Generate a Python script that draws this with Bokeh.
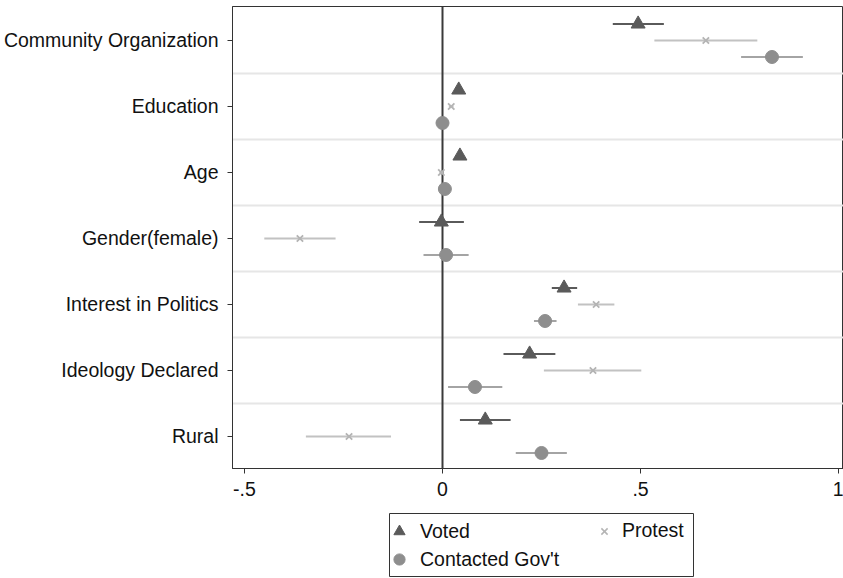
from bokeh.plotting import figure
from bokeh.models import (ColumnDataSource, FixedTicker, Range1d, Span, Legend, LegendItem,
                          CustomJSTickFormatter, Spacer)
from bokeh.layouts import column, row
from bokeh.embed import file_html
from bokeh.resources import INLINE

# ---------------- data ----------------
categories = ["Community Organization", "Education", "Age", "Gender(female)",
              "Interest in Politics", "Ideology Declared", "Rural"]
voted_est = [0.494, 0.041, 0.044, -0.003, 0.307, 0.220, 0.108]
voted_lo = [0.430, 0.035, 0.038, -0.059, 0.276, 0.154, 0.044]
voted_hi = [0.559, 0.047, 0.050, 0.054, 0.340, 0.285, 0.172]
protest_est = [0.665, 0.022, -0.003, -0.360, 0.388, 0.380, -0.236]
protest_lo = [0.535, 0.016, -0.008, -0.450, 0.342, 0.256, -0.345]
protest_hi = [0.795, 0.028, 0.002, -0.270, 0.434, 0.502, -0.130]
contact_est = [0.832, 0.000, 0.006, 0.009, 0.259, 0.082, 0.250]
contact_lo = [0.754, -0.005, 0.001, -0.048, 0.231, 0.014, 0.185]
contact_hi = [0.910, 0.005, 0.011, 0.066, 0.288, 0.151, 0.314]
x_ticks = [-0.5, 0, 0.5, 1]
series_names = ["Voted", "Protest", "Contacted Gov't"]

FONT = "Liberation Sans"
FS = "19.5px"
TXT = "#111111"
AX = "#333333"

n = len(categories)
base = [n - 1 - i for i in range(n)]

C_V, C_VL = "#5a5a5a", "#5a5a5a"
C_P, C_PL = "#b4b4b4", "#c2c2c2"
C_C, C_CL = "#8e8e8e", "#a4a4a4"

def src(est, lo, hi, off):
    return ColumnDataSource(dict(y=[b + off for b in base], est=est, lo=lo, hi=hi))

s_v = src(voted_est, voted_lo, voted_hi, 0.25)
s_p = src(protest_est, protest_lo, protest_hi, 0.0)
s_c = src(contact_est, contact_lo, contact_hi, -0.25)

p = figure(frame_width=611, frame_height=462,
           x_range=Range1d(-0.5303, 1.0126), y_range=Range1d(-0.485, 6.515),
           output_backend="svg", toolbar_location=None,
           min_border_left=232, min_border_right=0, min_border_top=6, min_border_bottom=44)
p.background_fill_color = "white"
p.border_fill_color = "white"
p.outline_line_color = AX
p.outline_line_width = 1

p.xgrid.visible = False
p.ygrid.ticker = FixedTicker(ticks=[k + 0.5 for k in range(n - 1)])
p.ygrid.grid_line_color = "#e6e6e6"
p.ygrid.grid_line_width = 2

zero = Span(location=0, dimension="height", line_color="#3a3a3a", line_width=2, level="underlay")
p.add_layout(zero)

p.segment(x0="lo", y0="y", x1="hi", y1="y", source=s_v, line_color=C_VL, line_width=2)
p.segment(x0="lo", y0="y", x1="hi", y1="y", source=s_p, line_color=C_PL, line_width=2)
p.segment(x0="lo", y0="y", x1="hi", y1="y", source=s_c, line_color=C_CL, line_width=2)
p.scatter(x="est", y="y", source=s_v, marker="triangle", size=14, fill_color=C_V, line_color=C_V)
p.scatter(x="est", y="y", source=s_p, marker="x", size=9, line_color=C_P, line_width=1.8)
p.scatter(x="est", y="y", source=s_c, marker="circle", size=13, fill_color=C_C, line_color=C_C)

for ax in (p.xaxis[0], p.yaxis[0]):
    ax.axis_line_color = AX
    ax.major_tick_line_color = AX
    ax.minor_tick_line_color = None
    ax.major_tick_in = 0
    ax.major_tick_out = 5
    ax.major_label_text_font = FONT
    ax.major_label_text_font_size = FS
    ax.major_label_text_color = TXT

p.xaxis.ticker = FixedTicker(ticks=x_ticks)
p.xaxis.formatter = CustomJSTickFormatter(
    code="if (tick == 0) { return '0'; } return String(tick).replace('0.', '.');")
p.xaxis.major_label_standoff = 8
p.yaxis.ticker = FixedTicker(ticks=base)
p.yaxis.major_label_overrides = {b: c for b, c in zip(base, categories)}
p.yaxis.major_label_standoff = 9

# ---------------- legend box ----------------
# a small frame that only carries the legend; its ranges lie outside the data,
# so the renderers here serve only as legend glyph sources
lf = figure(width=306, height=65, x_range=Range1d(5, 6), y_range=Range1d(50, 51),
            output_backend="svg", toolbar_location=None, min_border=1,
            x_axis_location=None, y_axis_location=None)
lf.grid.visible = False
lf.outline_line_color = AX
lf.outline_line_width = 1
r_v = lf.scatter(x="est", y="y", source=s_v, marker="triangle", fill_color=C_V, line_color=C_V)
r_p = lf.scatter(x="est", y="y", source=s_p, marker="x", line_color=C_P, line_width=1.5)
r_c = lf.scatter(x="est", y="y", source=s_c, marker="circle", fill_color=C_C, line_color=C_C)

common = dict(border_line_color=None, background_fill_alpha=0, padding=0, margin=0,
              label_text_font=FONT, label_text_font_size=FS, label_text_color=TXT,
              label_standoff=7, spacing=0, label_height=20)
leg1 = Legend(items=[LegendItem(label=series_names[0], renderers=[r_v]),
                     LegendItem(label=series_names[2], renderers=[r_c])],
              location=(-4, 3), orientation="vertical", glyph_width=28, glyph_height=28, **common)
leg2 = Legend(items=[LegendItem(label=series_names[1], renderers=[r_p])],
              location=(204, 34), orientation="vertical", glyph_width=22, glyph_height=22, **common)
lf.add_layout(leg1)
lf.add_layout(leg2)

layout = column(p, row(Spacer(width=388, height=65), lf))

open("out.html", "w").write(file_html(layout, INLINE))
